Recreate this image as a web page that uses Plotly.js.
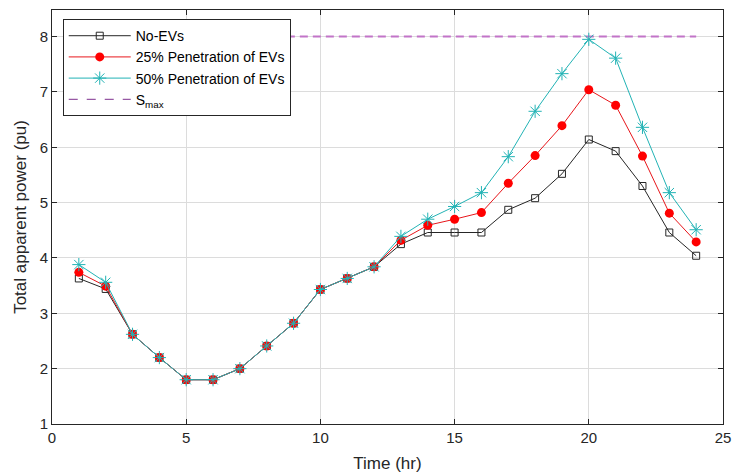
<!DOCTYPE html>
<html>
<head>
<meta charset="utf-8">
<script src="https://cdn.plot.ly/plotly-3.0.1.min.js"></script>
<style>html,body{margin:0;padding:0;background:#fff;}#chart{width:735px;height:474px;}</style>
</head>
<body>
<div id="chart"></div>
<script>
const hours = [1,2,3,4,5,6,7,8,9,10,11,12,13,14,15,16,17,18,19,20,21,22,23,24];
const noEVs = [3.63,3.44,2.62,2.20,1.80,1.80,2.00,2.41,2.82,3.43,3.63,3.84,4.25,4.46,4.46,4.46,4.87,5.08,5.52,6.14,5.93,5.30,4.46,4.04];
const pen25 = [3.74,3.49,2.62,2.20,1.80,1.80,2.00,2.41,2.82,3.43,3.63,3.84,4.32,4.59,4.70,4.82,5.35,5.85,6.39,7.04,6.76,5.84,4.81,4.29];
const pen50 = [3.88,3.56,2.62,2.20,1.80,1.80,2.00,2.41,2.82,3.43,3.63,3.84,4.39,4.70,4.93,5.18,5.83,6.65,7.33,7.95,7.61,6.36,5.18,4.51];
const smaxHours = [1,24];
const smaxValue = [8,8];
const xTicks = [0,5,10,15,20,25];
const yTicks = [1,2,3,4,5,6,7,8];

const font = "Liberation Sans, Arial, sans-serif";
const traces = [
  {x: smaxHours, y: smaxValue, mode:'lines', name:'S<sub>max</sub>',
   line:{color:'#c274c8', width:2, dash:'8px,5px'}, showlegend:false},
  {x: hours, y: noEVs, mode:'lines+markers', name:'No-EVs',
   line:{color:'#262626', width:1}, marker:{symbol:'square-open', size:7, color:'#262626', line:{width:1}}},
  {x: hours, y: pen25, mode:'lines+markers', name:'25% Penetration of EVs',
   line:{color:'#e8161b', width:1}, marker:{symbol:'circle', size:9, color:'#ff0000'}},
  {x: hours, y: pen50, mode:'lines+markers', name:'50% Penetration of EVs',
   line:{color:'#22b3b5', width:1}, marker:{symbol:'asterisk-open', size:11, color:'#22b3b5', line:{width:1, color:'#22b3b5'}}},
  {x: [null], y: [null], mode:'lines', name:'S<sub>max</sub>',
   line:{color:'#7e2f8e', width:1, dash:'dash'}}
];

const layout = {
  width:735, height:474,
  margin:{l:52, r:12, t:10, b:50},
  paper_bgcolor:'#fff', plot_bgcolor:'#fff',
  font:{family:font, size:15, color:'#262626'},
  showlegend:true,
  legend:{x:0.016, y:0.978, xanchor:'left', yanchor:'top', bgcolor:'#fff',
    bordercolor:'#262626', borderwidth:1, font:{family:font, size:14, color:'#000'},
    tracegroupgap:0, itemwidth:62},
  xaxis:{range:[0,25], tickvals:xTicks, ticktext:xTicks.map(String), ticks:'inside', ticklen:5,
    tickcolor:'#262626', showgrid:true, gridcolor:'#dcdcdc', gridwidth:1, zeroline:false,
    showline:true, linecolor:'#262626', linewidth:1, mirror:'ticks',
    title:{text:'Time (hr)', font:{family:font, size:17, color:'#262626'}, standoff:12},
    tickfont:{family:font, size:15, color:'#262626'}},
  yaxis:{range:[1,8.48], tickvals:yTicks, ticktext:yTicks.map(String), ticks:'inside', ticklen:5,
    tickcolor:'#262626', showgrid:true, gridcolor:'#dcdcdc', gridwidth:1, zeroline:false,
    showline:true, linecolor:'#262626', linewidth:1, mirror:'ticks',
    title:{text:'Total apparent power (pu)', font:{family:font, size:17, color:'#262626'}, standoff:8},
    tickfont:{family:font, size:15, color:'#262626'}}
};
Plotly.newPlot('chart', traces, layout, {displayModeBar:false, staticPlot:true});
</script>
</body>
</html>
